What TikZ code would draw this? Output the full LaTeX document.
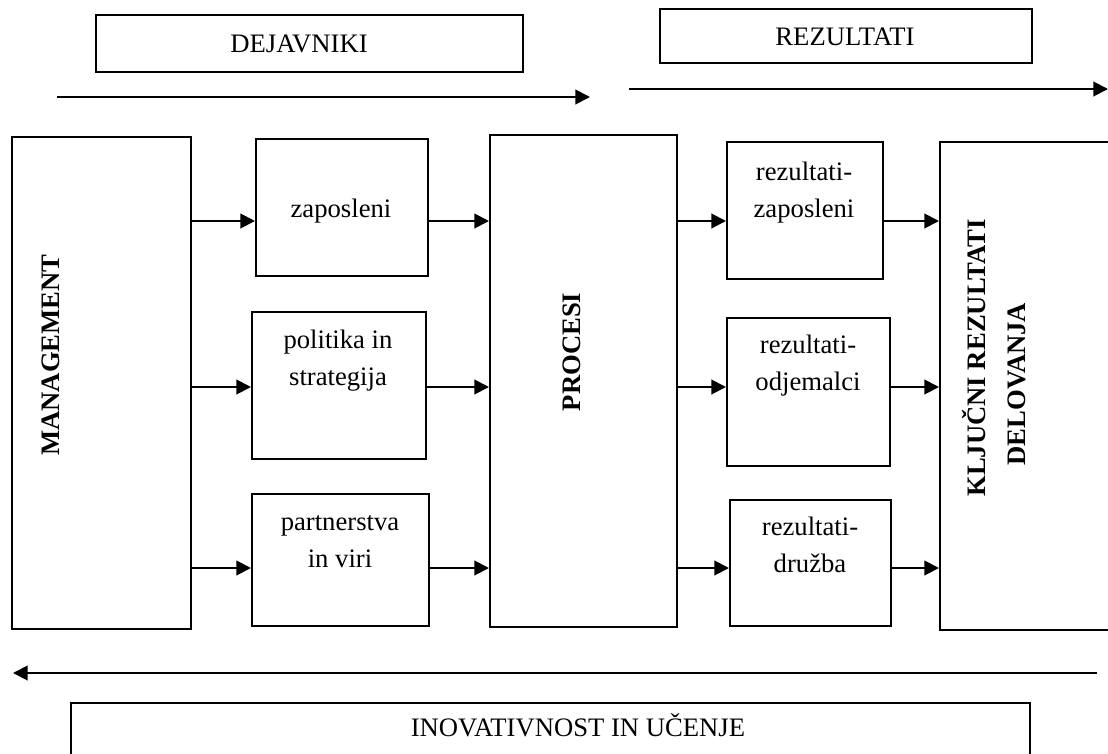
\documentclass[tikz,border=0pt]{standalone}
\usepackage{fontspec}
\setmainfont{Liberation Serif}
\usetikzlibrary{arrows.meta,fit}
\newcommand\dfont{\fontsize{20}{27.75}\selectfont}

\begin{document}
\begin{tikzpicture}[x=0.75pt,y=-0.75pt,
  box/.style={draw, line width=1.5pt, inner sep=0pt},
  lbl/.style={font=\dfont, anchor=base, inner sep=0pt},
  vlbl/.style={font=\dfont\bfseries, anchor=base, inner sep=0pt, rotate=90},
  arr/.style={line width=1.5pt, -{Triangle[length=11pt,width=11pt]}}]
\useasboundingbox (0,0) rectangle (1108,754);
\clip (0,0) rectangle (1108,754);

% headings above the flow
\node[box, fit={(96,15) (523,72)}] (dej) {};
\node[lbl] (dejT) at (299,52) {DEJAVNIKI};
\node[box, fit={(660,9) (1032,63)}] (rez) {};
\node[lbl] (rezT) at (845,45) {REZULTATI};

% direction arrows
\coordinate (a1s) at (57,97);   \coordinate (a1e) at (590,97);
\coordinate (a2s) at (629,89);  \coordinate (a2e) at (1108,89);
\coordinate (a3s) at (1097,673); \coordinate (a3e) at (13,673);
\draw[arr] (a1s) -- (a1e);
\draw[arr] (a2s) -- (a2e);
\draw[arr] (a3s) -- (a3e);

% enablers
\node[box, fit={(12,137) (191,629)}] (mgmt) {};
\node[vlbl] (mgmtT) at (59,355) {MANAGEMENT};

\node[box, fit={(256,139) (428,276)}] (zap) {};
\node[lbl] (zapT) at (341,217) {zaposleni};

\node[box, fit={(252,312) (426,459)}] (pol) {};
\node[lbl] (polT1) at (338,348) {politika in};
\node[lbl] (polT2) at (338,385) {strategija};

\node[box, fit={(252,494) (429,626)}] (par) {};
\node[lbl] (parT1) at (340,530) {partnerstva};
\node[lbl] (parT2) at (340,567) {in viri};

\node[box, fit={(490,135) (677,627)}] (proc) {};
\node[vlbl] (procT) at (580,352) {PROCESI};

% results
\node[box, fit={(727,142) (883,279)}] (rzap) {};
\node[lbl] (rzapT1) at (804,180) {rezultati-};
\node[lbl] (rzapT2) at (804,217) {zaposleni};

\node[box, fit={(727,318) (890,466)}] (rodj) {};
\node[lbl] (rodjT1) at (808,353) {rezultati-};
\node[lbl] (rodjT2) at (808,390) {odjemalci};

\node[box, fit={(730,500) (891,626)}] (rdru) {};
\node[lbl] (rdruT1) at (810,535) {rezultati-};
\node[lbl] (rdruT2) at (810,572) {družba};

\node[box, fit={(940,142) (1140,630)}] (klj) {};
\node[vlbl] (kljT1) at (985,358) {KLJUČNI REZULTATI};
\node[vlbl] (kljT2) at (1025,384) {DELOVANJA};

% learning box
\node[box, fit={(71,703) (1030,790)}] (ino) {};
\node[lbl] (inoT) at (578,736) {INOVATIVNOST IN UČENJE};

% rows of connectors
\coordinate (r1) at (0,221);
\coordinate (r2) at (0,387);
\coordinate (r3) at (0,568);

\draw[arr] (mgmt.east |- r1) -- (zap.west |- r1);
\draw[arr] (mgmt.east |- r2) -- (pol.west |- r2);
\draw[arr] (mgmt.east |- r3) -- (par.west |- r3);

\draw[arr] (zap.east |- r1) -- (proc.west |- r1);
\draw[arr] (pol.east |- r2) -- (proc.west |- r2);
\draw[arr] (par.east |- r3) -- (proc.west |- r3);

\draw[arr] (proc.east |- r1) -- (rzap.west |- r1);
\draw[arr] (proc.east |- r2) -- (rodj.west |- r2);
\draw[arr] (proc.east |- r3) -- (rdru.west |- r3);

\draw[arr] (rzap.east |- r1) -- (klj.west |- r1);
\draw[arr] (rodj.east |- r2) -- (klj.west |- r2);
\draw[arr] (rdru.east |- r3) -- (klj.west |- r3);
\end{tikzpicture}
\end{document}
